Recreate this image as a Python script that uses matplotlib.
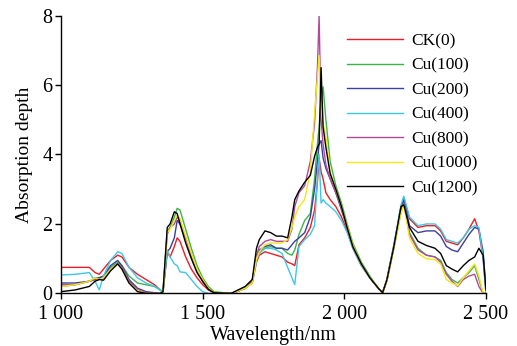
import matplotlib
matplotlib.use("Agg")
import matplotlib.pyplot as plt

plt.rcParams['font.family'] = ['Liberation Serif', 'DejaVu Serif']

wavelength = [1000, 1050, 1100, 1120, 1135, 1150, 1175, 1200, 1215, 1240, 1270, 1300, 1330, 1350,
              1360, 1375, 1385, 1400, 1410, 1420, 1440, 1460, 1480, 1500, 1520, 1540, 1600, 1620,
              1650, 1675, 1690, 1700, 1720, 1740, 1760, 1780, 1800, 1815, 1825, 1840, 1860, 1880,
              1895, 1905, 1911, 1918, 1925, 1935, 1950, 1970, 1990, 2010, 2030, 2060, 2090, 2120,
              2135, 2150, 2175, 2200, 2210, 2230, 2260, 2290, 2320, 2340, 2360, 2380, 2400, 2420,
              2440, 2460, 2475, 2490, 2500]

ck0 = [0.75, 0.75, 0.75, 0.6, 0.55, 0.7, 0.95, 1.1, 1.05, 0.75, 0.55, 0.4, 0.25, 0.1,
       0.05, 1.2, 1.05, 1.35, 1.6, 1.5, 1.05, 0.7, 0.45, 0.25, 0.1, 0.02, 0.0, 0.05,
       0.15, 0.3, 0.9, 1.1, 1.2, 1.15, 1.1, 1.05, 0.9, 0.85, 0.8, 1.4, 1.6, 1.9,
       2.4, 3.2, 3.9, 3.5, 3.3, 2.9, 2.7, 2.5, 2.2, 1.8, 1.3, 0.8, 0.45, 0.15,
       0.02, 0.4, 1.4, 2.5, 2.75, 2.15, 1.9, 1.95, 1.95, 1.8, 1.5, 1.45, 1.4, 1.6,
       1.85, 2.15, 1.8, 1.0, 0.0]

cu100 = [0.2, 0.25, 0.35, 0.45, 0.45, 0.5, 0.75, 0.9, 0.8, 0.5, 0.3, 0.25, 0.2, 0.1,
         0.05, 1.8, 1.9, 2.2, 2.45, 2.4, 1.85, 1.3, 0.8, 0.45, 0.2, 0.05, 0.0, 0.05,
         0.15, 0.35, 1.0, 1.2, 1.3, 1.35, 1.3, 1.3, 1.15, 1.1, 1.25, 1.7, 2.1, 2.3,
         3.3, 4.3, 4.8, 5.5, 5.95, 5.0, 3.8, 3.1, 2.6, 2.0, 1.45, 0.9, 0.5, 0.15,
         0.02, 0.35, 1.35, 2.4, 2.65, 1.75, 1.3, 1.1, 1.05, 0.95, 0.6, 0.4, 0.3, 0.45,
         0.6, 0.8, 0.4, 0.0, 0.0]

cu200 = [0.3, 0.3, 0.35, 0.4, 0.45, 0.5, 0.8, 0.95, 0.8, 0.4, 0.15, 0.05, 0.02, 0.0,
         0.05, 1.2, 1.3, 1.6, 2.1, 2.0, 1.6, 1.1, 0.65, 0.35, 0.12, 0.02, 0.0, 0.05,
         0.15, 0.35, 1.0, 1.25, 1.35, 1.4, 1.3, 1.3, 1.25, 1.4, 1.5, 1.6, 1.75, 2.2,
         3.0, 3.8, 4.3, 4.4, 3.9, 3.6, 3.3, 2.9, 2.4, 1.9, 1.35, 0.85, 0.45, 0.15,
         0.02, 0.38, 1.35, 2.45, 2.7, 1.95, 1.75, 1.8, 1.8, 1.65, 1.35, 1.25, 1.2, 1.45,
         1.7, 1.9, 1.85, 1.2, 0.1]

cu400 = [0.53, 0.55, 0.6, 0.35, 0.1, 0.5, 0.95, 1.2, 1.15, 0.75, 0.45, 0.3, 0.2, 0.1,
         0.0, 1.25, 1.05, 0.85, 0.8, 0.62, 0.6, 0.4, 0.2, 0.05, 0.0, 0.0, 0.0, 0.05,
         0.15, 0.3, 0.95, 1.15, 1.3, 1.3, 1.25, 1.15, 0.75, 0.45, 0.25, 1.35, 1.55, 1.7,
         1.95, 3.3, 4.0, 2.6, 2.7, 2.6, 2.5, 2.35, 2.1, 1.75, 1.3, 0.8, 0.45, 0.15,
         0.02, 0.4, 1.4, 2.55, 2.8, 2.2, 1.95, 2.0, 2.0, 1.85, 1.55, 1.5, 1.45, 1.6,
         1.85, 1.95, 1.9, 1.0, 0.0]

cu800 = [0.25, 0.25, 0.35, 0.4, 0.4, 0.45, 0.7, 0.85, 0.75, 0.35, 0.1, 0.02, 0.0, 0.0,
         0.05, 1.7, 1.9, 2.0, 2.2, 2.1, 1.6, 1.1, 0.65, 0.35, 0.12, 0.02, 0.0, 0.05,
         0.15, 0.35, 1.1, 1.35, 1.5, 1.55, 1.5, 1.5, 1.5, 1.85, 2.5, 2.9, 3.1, 3.8,
         4.9, 6.5, 8.0, 5.0, 4.3, 3.7, 3.3, 2.9, 2.45, 1.9, 1.35, 0.85, 0.45, 0.15,
         0.02, 0.35, 1.3, 2.35, 2.6, 1.7, 1.25, 1.1, 1.05, 0.9, 0.55, 0.35, 0.2, 0.4,
         0.5, 0.55, 0.2, 0.0, 0.0]

cu1000 = [0.2, 0.25, 0.35, 0.45, 0.4, 0.45, 0.7, 0.85, 0.7, 0.3, 0.08, 0.0, 0.0, 0.0,
          0.05, 1.75, 1.85, 2.1, 2.25, 2.15, 1.65, 1.15, 0.7, 0.4, 0.15, 0.03, 0.0, 0.05,
          0.15, 0.3, 1.0, 1.2, 1.4, 1.45, 1.45, 1.45, 1.55, 1.9, 2.2, 2.5, 2.7, 3.5,
          5.2, 6.2, 6.85, 5.3, 4.9, 4.5, 3.5, 3.0, 2.5, 1.95, 1.4, 0.85, 0.45, 0.15,
          0.02, 0.35, 1.3, 2.3, 2.55, 1.6, 1.15, 1.0, 0.97, 0.85, 0.4, 0.3, 0.22, 0.45,
          0.65, 0.85, 0.5, 0.0, 0.0]

cu1200 = [0.05, 0.1, 0.2, 0.35, 0.4, 0.38, 0.65, 0.85, 0.7, 0.3, 0.05, 0.0, 0.0, 0.0,
          0.05, 1.9, 2.0, 2.35, 2.3, 2.0, 1.45, 1.0, 0.6, 0.35, 0.12, 0.02, 0.0, 0.08,
          0.2, 0.4, 1.3, 1.55, 1.8, 1.75, 1.65, 1.65, 1.6, 2.2, 2.7, 2.95, 3.2, 3.4,
          3.95, 4.2, 4.3, 6.5, 4.8, 4.2, 3.45, 3.0, 2.5, 1.9, 1.35, 0.85, 0.45, 0.15,
          0.02, 0.38, 1.35, 2.5, 2.55, 1.9, 1.5, 1.38, 1.3, 1.15, 0.8, 0.7, 0.62, 0.8,
          0.95, 1.05, 1.3, 1.1, 0.1]

labels = ['CK(0)', 'Cu(100)', 'Cu(200)', 'Cu(400)', 'Cu(800)', 'Cu(1000)', 'Cu(1200)']
colors = ['#ee1c25', '#3cb44a', '#3b3f9f', '#3cc8e6', '#b3489b', '#f5e614', '#000000']
series = [ck0, cu100, cu200, cu400, cu800, cu1000, cu1200]

xticks = [1000, 1500, 2000, 2500]
xticklabels = ['1 000', '1 500', '2 000', '2 500']
yticks = [0, 2, 4, 6, 8]

fig = plt.figure(figsize=(5.17, 3.46), dpi=100)
ax = fig.add_axes([0.118, 0.152, 0.822, 0.803])

for vals, lab, col in zip(series, labels, colors):
    ax.plot(wavelength, vals, color=col, lw=1.0, label=lab)

ax.set_xlim(1000, 2500)
ax.set_ylim(0, 8)
ax.set_xticks(xticks)
ax.set_xticklabels(xticklabels)
ax.set_yticks(yticks)
ax.tick_params(axis='both', labelsize=14.5, direction='out', length=4, width=1)
ax.tick_params(axis='x', pad=4)
ax.tick_params(axis='y', pad=2)
ax.spines['top'].set_visible(False)
ax.spines['right'].set_visible(False)
ax.spines['left'].set_linewidth(1.0)
ax.spines['bottom'].set_linewidth(1.0)

ax.set_xlabel('Wavelength/nm', fontsize=14.5, labelpad=2)
ax.set_ylabel('Absorption depth', fontsize=14, labelpad=7)

ax.legend(loc='upper left', bbox_to_anchor=(347 / 517, 1 - 33 / 346),
          bbox_transform=fig.transFigure, frameon=False, fontsize=12.5,
          borderaxespad=0, borderpad=0,
          handlelength=3.2, handletextpad=0.5, labelspacing=0.48)

fig.savefig('out.png', dpi=100, facecolor='white')
